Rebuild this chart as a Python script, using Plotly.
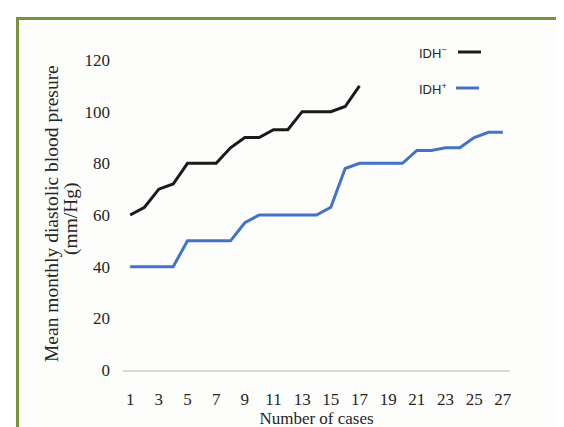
import plotly.graph_objects as go

cases_neg = list(range(1, 18))
idh_neg = [60, 63, 70, 72, 80, 80, 80, 86, 90, 90, 93, 93, 100, 100, 100, 102, 110]
cases_pos = list(range(1, 28))
idh_pos = [40, 40, 40, 40, 50, 50, 50, 50, 57, 60, 60, 60, 60, 60, 63, 78, 80, 80, 80, 80,
           85, 85, 86, 86, 90, 92, 92]
x_ticks = list(range(1, 28, 2))
y_ticks = [0, 20, 40, 60, 80, 100, 120]

W, H = 564, 427
L, R, T, B = 115, 62, 52, 65
pw, ph = W - L - R, H - T - B


def px(x):
    return (x - L) / pw


def py(y):
    return (H - B - y) / ph


serif = "Liberation Serif, Times New Roman, serif"
sans = "Liberation Sans, Arial, sans-serif"
txt = "#262626"

fig = go.Figure()
fig.add_trace(go.Scatter(x=cases_neg, y=idh_neg, mode="lines", name="IDH-",
                         line=dict(color="#1a1a1a", width=3)))
fig.add_trace(go.Scatter(x=cases_pos, y=idh_pos, mode="lines", name="IDH+",
                         line=dict(color="#4472C4", width=3)))

fig.update_layout(
    width=W, height=H,
    margin=dict(l=L, r=R, t=T, b=B),
    paper_bgcolor="white", plot_bgcolor="rgba(0,0,0,0)",
    showlegend=False,
    xaxis=dict(range=[0.5, 27.5], tickvals=x_ticks, showgrid=False, zeroline=False,
               showline=True, linecolor="#d9d9d9", linewidth=1.5, ticks="",
               ticklabelstandoff=13,
               tickfont=dict(family=serif, size=17, color=txt),
               title=dict(text="Number of cases", standoff=3,
                          font=dict(family=serif, size=17, color=txt))),
    yaxis=dict(range=[0, 120], tickvals=y_ticks, showgrid=False, zeroline=False,
               showline=False, ticks="", ticklabelstandoff=12,
               tickfont=dict(family=serif, size=17, color=txt)),
    shapes=[
        dict(type="rect", xref="paper", yref="paper", layer="below",
             x0=px(9.5), x1=px(600), y0=py(460), y1=py(10.5),
             line=dict(color="#77933C", width=3), fillcolor="#fdfdfb"),
        dict(type="line", xref="paper", yref="paper",
             x0=px(450), x1=px(473), y0=py(44), y1=py(44),
             line=dict(color="#1a1a1a", width=3)),
        dict(type="line", xref="paper", yref="paper",
             x0=px(448), x1=px(471), y0=py(80), y1=py(80),
             line=dict(color="#4472C4", width=3)),
    ],
    annotations=[
        dict(text="Mean monthly diastolic blood presure", xref="paper", yref="paper",
             x=px(43), y=py(206), textangle=-90, showarrow=False,
             xanchor="center", yanchor="middle",
             font=dict(family=serif, size=19.5, color=txt)),
        dict(text="(mm/Hg)", xref="paper", yref="paper",
             x=px(63), y=py(211), textangle=-90, showarrow=False,
             xanchor="center", yanchor="middle",
             font=dict(family=serif, size=19.5, color=txt)),
        dict(text="IDH<sup>−</sup>", xref="paper", yref="paper",
             x=px(409), y=py(45), showarrow=False, xanchor="left", yanchor="middle",
             font=dict(family=sans, size=13, color=txt)),
        dict(text="IDH<sup>+</sup>", xref="paper", yref="paper",
             x=px(409), y=py(81), showarrow=False, xanchor="left", yanchor="middle",
             font=dict(family=sans, size=13, color=txt)),
    ],
)

fig.write_html("out.html")
